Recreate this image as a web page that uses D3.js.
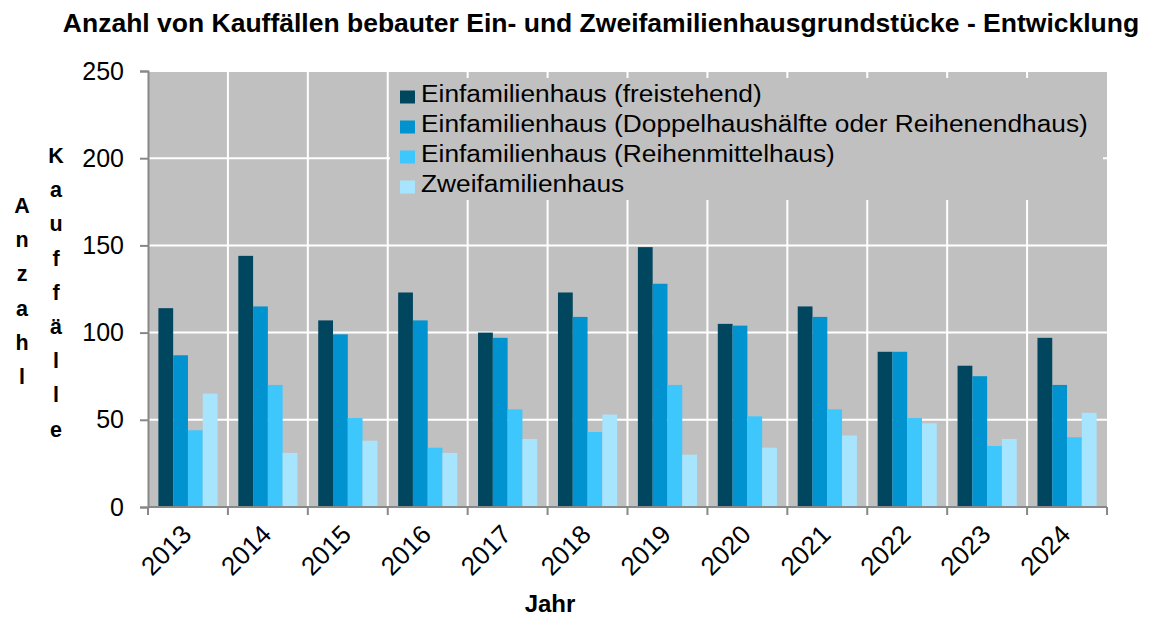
<!DOCTYPE html>
<html>
<head>
<meta charset="utf-8">
<script src="https://cdn.jsdelivr.net/npm/d3@7"></script>
<style>
  body { margin: 0; background: #fff; }
  svg text { font-family: "Liberation Sans", Arial, sans-serif; }
</style>
</head>
<body>
<div id="chart"></div>
<script>
const years = ["2013", "2014", "2015", "2016", "2017", "2018", "2019", "2020", "2021", "2022", "2023", "2024"]
const seriesNames = [
  "Einfamilienhaus (freistehend)",
  "Einfamilienhaus (Doppelhaushälfte oder Reihenendhaus)",
  "Einfamilienhaus (Reihenmittelhaus)",
  "Zweifamilienhaus"
]
const freistehend = [114, 144, 107, 123, 100, 123, 149, 105, 115, 89, 81, 97]
const doppelhaus = [87, 115, 99, 107, 97, 109, 128, 104, 109, 89, 75, 70]
const reihenmittelhaus = [44, 70, 51, 34, 56, 43, 70, 52, 56, 51, 35, 40]
const zweifamilienhaus = [65, 31, 38, 31, 39, 53, 30, 34, 41, 48, 39, 54]
const yTicks = [0, 50, 100, 150, 200, 250]
const seriesColors = ["#00465f", "#0093cf", "#3dc7fd", "#a7e5ff"]

const width = 1150
const height = 617
const plot = {left: 148, right: 1107, top: 71, bottom: 507}
const axisColor = "#888888"

const seriesValues = [freistehend, doppelhaus, reihenmittelhaus, zweifamilienhaus]
const rows = years.map((year, i) => ({
  year: year,
  values: seriesValues.map((values, s) => ({series: s, value: values[i]}))
}))

const svg = d3.select("#chart")
  .append("svg")
  .attr("width", width)
  .attr("height", height)

const xScale = d3.scaleBand()
  .domain(years)
  .range([plot.left, plot.right])
  .padding(0)

const bandWidth = xScale.bandwidth()
const innerScale = d3.scaleBand()
  .domain(d3.range(seriesNames.length))
  .range([bandWidth * 0.13, bandWidth * 0.87])
  .padding(0)

const yScale = d3.scaleLinear()
  .domain([0, 250])
  .range([plot.bottom, plot.top])

// plot background
svg.append("rect")
  .attr("x", plot.left)
  .attr("y", plot.top)
  .attr("width", plot.right - plot.left)
  .attr("height", plot.bottom - plot.top)
  .attr("fill", "#c0c0c0")

// white grid
svg.append("g")
  .selectAll("line")
  .data(yTicks.filter(t => t > 0))
  .enter()
  .append("line")
  .attr("x1", plot.left)
  .attr("x2", plot.right)
  .attr("y1", d => yScale(d))
  .attr("y2", d => yScale(d))
  .attr("stroke", "#fff")
  .attr("stroke-width", 2)

svg.append("g")
  .selectAll("line")
  .data(years.slice(1))
  .enter()
  .append("line")
  .attr("x1", d => xScale(d))
  .attr("x2", d => xScale(d))
  .attr("y1", plot.top)
  .attr("y2", plot.bottom)
  .attr("stroke", "#fff")
  .attr("stroke-width", 2)

// legend box sits over the grid
const legend = svg.append("g")
legend.append("rect")
  .attr("x", 390)
  .attr("y", 78)
  .attr("width", 713)
  .attr("height", 122)
  .attr("fill", "#c0c0c0")

const legendItems = legend.selectAll("g.item")
  .data(seriesNames)
  .enter()
  .append("g")
  .attr("class", "item")
  .attr("transform", (d, i) => `translate(400, ${97 + i * 30})`)

legendItems.append("rect")
  .attr("x", 0)
  .attr("y", -6.5)
  .attr("width", 15)
  .attr("height", 13)
  .attr("fill", (d, i) => seriesColors[i])

// the legend text in the original is a little wider than Arial
legendItems.append("text")
  .attr("transform", "translate(21, 5) scale(1.12, 1)")
  .attr("font-size", 23.5)
  .attr("fill", "#000")
  .text(d => d)

// bars
const groups = svg.append("g")
  .selectAll("g")
  .data(rows)
  .enter()
  .append("g")
  .attr("transform", d => `translate(${xScale(d.year)}, 0)`)

groups.selectAll("rect")
  .data(d => d.values)
  .enter()
  .append("rect")
  .attr("x", d => innerScale(d.series))
  .attr("y", d => yScale(d.value))
  .attr("width", innerScale.bandwidth())
  .attr("height", d => yScale(0) - yScale(d.value))
  .attr("fill", d => seriesColors[d.series])

// axes
const xAxis = svg.append("g")
  .attr("transform", `translate(0, ${plot.bottom})`)
xAxis.append("line")
  .attr("x1", plot.left)
  .attr("x2", plot.right)
  .attr("stroke", axisColor)
  .attr("stroke-width", 2)
xAxis.selectAll("line.tick")
  .data(years.map(y => xScale(y)).concat([plot.right]))
  .enter()
  .append("line")
  .attr("class", "tick")
  .attr("x1", d => d)
  .attr("x2", d => d)
  .attr("y1", 0)
  .attr("y2", 8)
  .attr("stroke", axisColor)
  .attr("stroke-width", 2)
xAxis.selectAll("text")
  .data(years)
  .enter()
  .append("text")
  .attr("text-anchor", "end")
  .attr("font-size", 26)
  .attr("fill", "#000")
  .attr("transform", d => `translate(${xScale(d) + bandWidth / 2 + 5}, 29) rotate(-45)`)
  .text(d => d)

const yAxis = svg.append("g")
  .attr("transform", `translate(${plot.left}, 0)`)
  .call(d3.axisLeft(yScale).tickValues(yTicks).tickSize(8).tickPadding(16))
yAxis.select(".domain").attr("stroke", axisColor).attr("stroke-width", 2)
yAxis.selectAll(".tick line").attr("stroke", axisColor).attr("stroke-width", 2)
yAxis.selectAll(".tick text")
  .attr("font-size", 25)
  .attr("font-family", "Liberation Sans, Arial, sans-serif")
  .attr("fill", "#000")

// title and axis titles
svg.append("text")
  .attr("x", 601)
  .attr("y", 32)
  .attr("text-anchor", "middle")
  .attr("font-size", 26.5)
  .attr("font-weight", "bold")
  .attr("fill", "#000")
  .text("Anzahl von Kauffällen bebauter Ein- und Zweifamilienhausgrundstücke - Entwicklung")

svg.append("text")
  .attr("x", 550)
  .attr("y", 612)
  .attr("text-anchor", "middle")
  .attr("font-size", 24)
  .attr("font-weight", "bold")
  .attr("fill", "#000")
  .text("Jahr")

function stackedLabel(word, x, firstBaseline) {
  const label = svg.append("text")
    .attr("text-anchor", "middle")
    .attr("font-size", 21.5)
    .attr("font-weight", "bold")
    .attr("fill", "#000")
  label.selectAll("tspan")
    .data(word.split(""))
    .enter()
    .append("tspan")
    .attr("x", x)
    .attr("y", (d, i) => firstBaseline + i * 34.2)
    .text(d => d)
}
stackedLabel("Anzahl", 22, 213)
stackedLabel("Kauffälle", 56, 163)
</script>
</body>
</html>
